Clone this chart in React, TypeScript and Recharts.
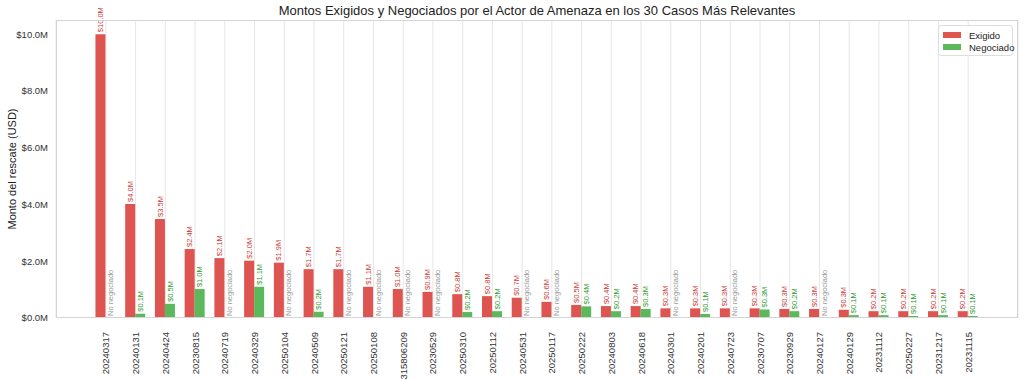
import { BarChart, Bar, XAxis, YAxis, CartesianGrid, LabelList } from "recharts";

const categories = [
  "20240317", "20240131", "20240424", "20230815", "20240719", "20240329",
  "20250104", "20240509", "20250121", "20250108", "4315806209", "20230529",
  "20250310", "20250112", "20240531", "20250117", "20250222", "20240803",
  "20240618", "20240301", "20240201", "20240723", "20230707", "20230929",
  "20240127", "20240129", "20231112", "20250227", "20231217", "20231115",
];

// millones de USD
const exigido = [
  10.0, 4.02, 3.49, 2.43, 2.11, 2.02, 1.95, 1.72, 1.72, 1.1, 1.02, 0.92,
  0.84, 0.77, 0.71, 0.57, 0.46, 0.42, 0.42, 0.34, 0.34, 0.34, 0.34, 0.32,
  0.32, 0.29, 0.24, 0.24, 0.24, 0.24,
];

// null = no negociado
const negociado: (number | null)[] = [
  null, 0.15, 0.5, 1.02, null, 1.1, null, 0.22, null, null, null, null,
  0.21, 0.24, null, null, 0.41, 0.24, 0.32, null, 0.14, null, 0.3, 0.24,
  null, 0.1, 0.1, 0.07, 0.1, 0.07,
];

const yTicks = [0, 2, 4, 6, 8, 10];

const RED = "#dd5450";
const GREEN = "#5bb85b";
const FONT = "'Liberation Sans', Arial, sans-serif";
const NO_NEG = "No negociado";

const fmt = (v: number) => `$${v.toFixed(1)}M`;

const data = categories.map((name, i) => ({
  name,
  exigido: exigido[i],
  negociado: negociado[i] ?? 0,
  exiLabel: fmt(exigido[i]),
  negLabel: negociado[i] == null ? "" : fmt(negociado[i] as number),
  noNegLabel: negociado[i] == null ? NO_NEG : "",
}));

function XTick(props: any) {
  const { x, y, payload } = props;
  return (
    <text
      x={x + 3.5}
      y={y + 6}
      transform={`rotate(-90 ${x + 3.5} ${y + 6})`}
      textAnchor="end"
      fontSize={9.5}
      fill="#333"
      fontFamily={FONT}
    >
      {payload.value}
    </text>
  );
}

function makeLabel(color: string) {
  return (props: any) => {
    const { x, y, width, value } = props;
    if (!value) return null;
    const cx = Number(x) + Number(width) / 2 + 2.6;
    const base = Number(y) - 2;
    return (
      <text
        x={cx}
        y={base}
        transform={`rotate(-90 ${cx} ${base})`}
        fontSize={7.5}
        fill={color}
        fontFamily={FONT}
      >
        {value}
      </text>
    );
  };
}

// "No negociado" se dibuja en la posición de la barra verde, a partir de la base
function NoNegLabel(props: any) {
  const { x, y, width, height, value } = props;
  if (!value) return null;
  const cx = Number(x) + Number(width) * 1.5 + 2.6;
  const base = Number(y) + Number(height) - 2;
  return (
    <text
      x={cx}
      y={base}
      transform={`rotate(-90 ${cx} ${base})`}
      fontSize={7.5}
      fill="#999"
      fontFamily={FONT}
    >
      {value}
    </text>
  );
}

export default function App() {
  return (
    <div style={{ position: "absolute", left: 0, top: 0, width: 1024, height: 380, background: "#fff", fontFamily: FONT }}>
      <div style={{ position: "absolute", left: 0, width: 1074, top: 3, textAlign: "center", fontSize: 13, color: "#222" }}>
        Montos Exigidos y Negociados por el Actor de Amenaza en los 30 Casos Más Relevantes
      </div>
      <div
        style={{
          position: "absolute",
          left: 12,
          top: 169,
          transform: "translate(-50%, -50%) rotate(-90deg)",
          whiteSpace: "nowrap",
          fontSize: 11,
          color: "#222",
        }}
      >
        Monto del rescate (USD)
      </div>
      <BarChart
        width={1024}
        height={380}
        data={data}
        margin={{ top: 20, right: 6, bottom: 0, left: 0 }}
        barCategoryGap="15%"
        barGap={0}
      >
        <CartesianGrid horizontal={false} stroke="#e6e6e6" />
        <XAxis
          dataKey="name"
          interval={0}
          padding={{ left: 35, right: 35 }}
          axisLine={false}
          tickLine={false}
          height={62}
          tick={<XTick />}
        />
        <YAxis
          width={56}
          domain={[0, 10.5]}
          ticks={yTicks}
          tickFormatter={fmt}
          axisLine={false}
          tickLine={false}
          tick={{ fontSize: 9.5, fill: "#333", fontFamily: FONT }}
        />
        <Bar dataKey="exigido" fill={RED} isAnimationActive={false}>
          <LabelList dataKey="exiLabel" content={makeLabel("#cc3b37")} />
          <LabelList dataKey="noNegLabel" content={NoNegLabel} />
        </Bar>
        <Bar dataKey="negociado" fill={GREEN} isAnimationActive={false}>
          <LabelList dataKey="negLabel" content={makeLabel("#2e9a2e")} />
        </Bar>
      </BarChart>
      <div
        style={{
          position: "absolute",
          left: 56,
          top: 20,
          width: 962,
          height: 298,
          boxSizing: "border-box",
          border: "1px solid #d4d4d4",
          pointerEvents: "none",
        }}
      />
      <div
        style={{
          position: "absolute",
          left: 938,
          top: 25,
          width: 75,
          height: 31,
          boxSizing: "border-box",
          border: "1px solid #ddd",
          borderRadius: 3,
          background: "rgba(255,255,255,0.9)",
          fontSize: 9.5,
          color: "#222",
        }}
      >
        {[
          { c: RED, t: "Exigido" },
          { c: GREEN, t: "Negociado" },
        ].map((e, i) => (
          <div key={e.t} style={{ position: "absolute", left: 4, top: 3 + i * 12, display: "flex", alignItems: "center", height: 12 }}>
            <span style={{ width: 18, height: 6, background: e.c, display: "inline-block", marginRight: 8 }} />
            <span>{e.t}</span>
          </div>
        ))}
      </div>
    </div>
  );
}
